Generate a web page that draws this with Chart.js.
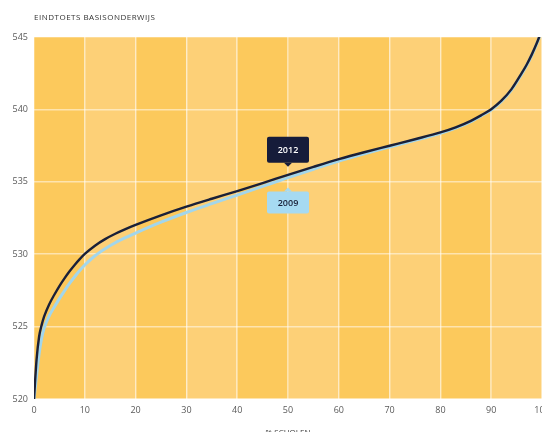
<!DOCTYPE html>
<html>
<head>
<meta charset="utf-8">
<script src="https://cdn.jsdelivr.net/npm/chart.js@4/dist/chart.umd.min.js"></script>
<style>
  html, body { margin: 0; padding: 0; background: #ffffff; overflow: hidden; }
  #wrap { width: 542px; height: 432px; overflow: hidden; position: relative; }
  canvas { display: block; }
</style>
</head>
<body>
<div id="wrap"><canvas id="c" width="560" height="450"></canvas></div>
<script>
// Percentage of schools (x) and the final test score reached at that percentile
const pct = [0, 0.5, 1, 1.5, 2, 3, 4, 5, 6, 7, 8, 9, 10, 12, 14, 16, 18, 20, 25, 30, 35, 40,
             45, 50, 55, 60, 65, 70, 75, 80, 83, 86, 88, 90, 92, 94, 96, 97, 98, 99, 99.5];
const score2012 = [520, 522.7, 524.3, 525.1, 525.7, 526.55, 527.2, 527.8, 528.33, 528.82, 529.26,
                   529.66, 530.02, 530.59, 531.04, 531.41, 531.73, 532.02, 532.68, 533.28, 533.83,
                   534.36, 534.91, 535.48, 536.03, 536.56, 537.04, 537.49, 537.94, 538.41, 538.76,
                   539.21, 539.59, 540.01, 540.6, 541.4, 542.5, 543.1, 543.8, 544.6, 545.05];
const score2009 = [520, 521.6, 523.1, 524.2, 524.9, 525.75, 526.35, 526.93, 527.47, 527.98, 528.44,
                   528.87, 529.25, 529.89, 530.38, 530.79, 531.14, 531.46, 532.21, 532.88, 533.49,
                   534.08, 534.68, 535.29, 535.87, 536.43, 536.93, 537.40, 537.86, 538.34, 538.70,
                   539.15, 539.54, 539.96, 540.55, 541.35, 542.45, 543.05, 543.75, 544.55, 545.0];
const seriesNames = ['2012', '2009'];
const calloutAt = 50;           // x position of the year call-outs
const xTicks = { min: 0, max: 100, step: 10 };
const yTicks = { min: 520, max: 545, step: 5 };
const chartTitle = 'EINDTOETS BASISONDERWIJS';
const xTitle = '% SCHOLEN';

const NAVY = '#1a2038';
const SKY = '#a2d6ec';
const BAND_DARK = '#fcc95c';
const BAND_LIGHT = '#fdd077';
const FONT = '"Open Sans", "DejaVu Sans", sans-serif';

const toPoints = (vals) => pct.map((p, i) => ({ x: p, y: vals[i] }));

// Alternating vertical bands behind the plot, one per 10 percent
const bandPlugin = {
  id: 'bands',
  beforeDraw(chart) {
    const { ctx, chartArea: a, scales: { x } } = chart;
    ctx.save();
    let k = 0;
    for (let v = xTicks.min; v < xTicks.max; v += xTicks.step, k++) {
      const l = x.getPixelForValue(v), r = x.getPixelForValue(v + xTicks.step);
      ctx.fillStyle = k % 2 === 0 ? BAND_DARK : BAND_LIGHT;
      ctx.fillRect(l, a.top, r - l, a.bottom - a.top);
    }
    ctx.restore();
  }
};

// Heading above the plot
const headingPlugin = {
  id: 'heading',
  afterDraw(chart) {
    const { ctx } = chart;
    ctx.save();
    ctx.font = '8px ' + FONT;
    if ('letterSpacing' in ctx) ctx.letterSpacing = '0.5px';
    ctx.fillStyle = '#333333';
    ctx.textAlign = 'left';
    ctx.textBaseline = 'middle';
    ctx.fillText(chartTitle, 34, 18);
    ctx.restore();
  }
};

// Year call-outs: dark box above the 2012 line, light box below the 2009 line
function callout(ctx, cx, tipY, up, text, fill, color, h) {
  const w = 42, r = 2, arrow = 4, half = 4;
  const top = up ? tipY - arrow - h : tipY + arrow;
  const left = cx - w / 2;
  ctx.beginPath();
  ctx.moveTo(left + r, top);
  ctx.lineTo(left + w - r, top);
  ctx.quadraticCurveTo(left + w, top, left + w, top + r);
  ctx.lineTo(left + w, top + h - r);
  ctx.quadraticCurveTo(left + w, top + h, left + w - r, top + h);
  ctx.lineTo(left + r, top + h);
  ctx.quadraticCurveTo(left, top + h, left, top + h - r);
  ctx.lineTo(left, top + r);
  ctx.quadraticCurveTo(left, top, left + r, top);
  ctx.closePath();
  ctx.fillStyle = fill;
  ctx.fill();
  ctx.beginPath();
  if (up) {
    ctx.moveTo(cx - half, top + h);
    ctx.lineTo(cx, tipY);
    ctx.lineTo(cx + half, top + h);
  } else {
    ctx.moveTo(cx - half, top);
    ctx.lineTo(cx, tipY);
    ctx.lineTo(cx + half, top);
  }
  ctx.closePath();
  ctx.fill();
  ctx.fillStyle = color;
  ctx.font = '600 9px ' + FONT;
  ctx.textAlign = 'center';
  ctx.textBaseline = 'middle';
  ctx.fillText(text, cx, top + h / 2 + 0.5);
}

const calloutPlugin = {
  id: 'callouts',
  afterDatasetsDraw(chart) {
    const { ctx, scales: { x, y } } = chart;
    const i = pct.indexOf(calloutAt);
    const cx = x.getPixelForValue(calloutAt);
    ctx.save();
    callout(ctx, cx, y.getPixelForValue(score2012[i]) - 8, true, seriesNames[0], '#161c3a', '#ffffff', 26);
    callout(ctx, cx, y.getPixelForValue(score2009[i]) + 10, false, seriesNames[1], '#a6daf2', '#1a2038', 22);
    ctx.restore();
  }
};

new Chart(document.getElementById('c'), {
  type: 'line',
  data: {
    datasets: [
      {
        label: seriesNames[0],
        data: toPoints(score2012),
        borderColor: NAVY,
        borderWidth: 2.4,
        pointRadius: 0,
        cubicInterpolationMode: 'monotone',
        fill: false
      },
      {
        label: seriesNames[1],
        data: toPoints(score2009),
        borderColor: SKY,
        borderWidth: 3,
        pointRadius: 0,
        cubicInterpolationMode: 'monotone',
        fill: false
      }
    ]
  },
  options: {
    responsive: false,
    animation: false,
    devicePixelRatio: 1,
    layout: { padding: { left: 0, top: 37, right: 18, bottom: 0 } },
    plugins: {
      legend: { display: false },
      tooltip: { enabled: false },
      title: { display: false }
    },
    scales: {
      x: {
        type: 'linear',
        min: xTicks.min,
        max: xTicks.max,
        border: { display: false },
        grid: { color: 'rgba(255,255,255,0.5)', lineWidth: 1.5, drawTicks: false },
        ticks: {
          stepSize: xTicks.step,
          padding: 6,
          color: '#5a5a5a',
          font: { family: FONT, size: 9 },
          maxRotation: 0
        },
        title: {
          display: true,
          text: xTitle,
          color: '#3a3a3a',
          font: { family: FONT, size: 8 },
          padding: { top: 0, bottom: 12 }
        },
        afterFit(scale) { scale.height = 51; scale.paddingLeft = 0; scale.paddingRight = 0; }
      },
      y: {
        min: yTicks.min,
        max: yTicks.max,
        border: { display: false },
        grid: { color: 'rgba(255,255,255,0.5)', lineWidth: 1.5, drawTicks: false },
        ticks: {
          stepSize: yTicks.step,
          padding: 6,
          color: '#5a5a5a',
          font: { family: FONT, size: 9 }
        },
        afterFit(scale) { scale.width = 34; }
      }
    }
  },
  plugins: [bandPlugin, headingPlugin, calloutPlugin]
});
</script>
</body>
</html>
